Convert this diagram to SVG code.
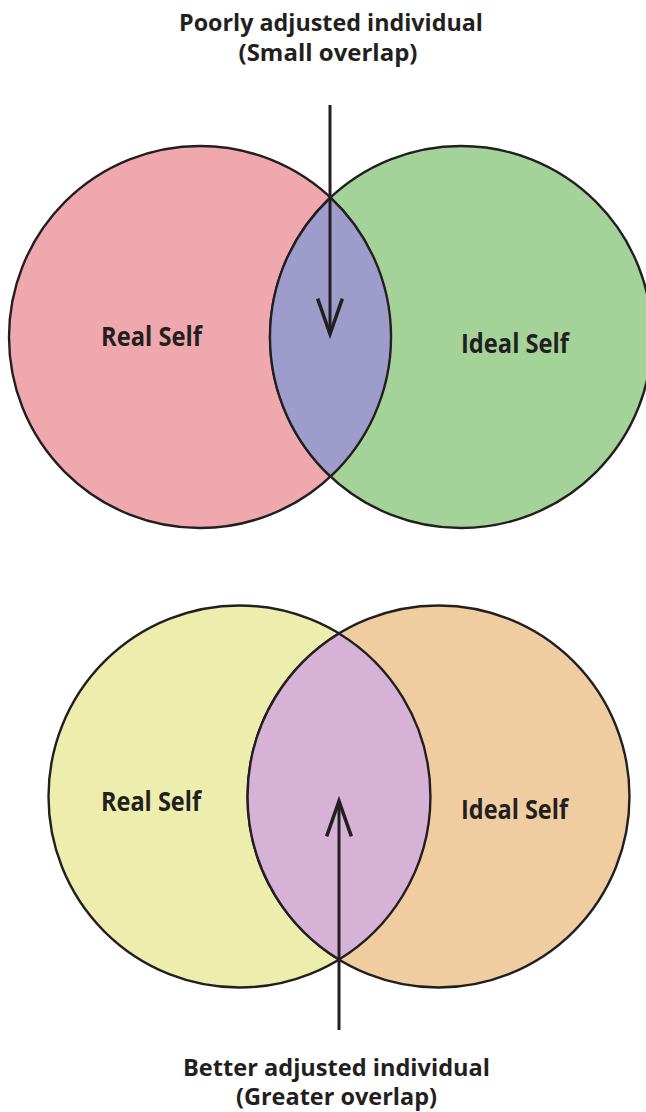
<svg xmlns="http://www.w3.org/2000/svg" width="646" height="1112" viewBox="0 0 646 1112">
<style>
.c{stroke:#231F20;stroke-width:2.4}
.t{font-family:"Open Sans","Liberation Sans",sans-serif;font-weight:700;font-size:26px;fill:#231F20}
.h{font-size:23px}
.a{stroke:#231F20;stroke-width:3;fill:none}
</style>
<defs>
<marker id="v" markerUnits="userSpaceOnUse" markerWidth="40" markerHeight="30" viewBox="-32 -12 34 24" refX="0" refY="0" orient="auto" overflow="visible">
<path d="M-30,-10.5 L0,0 L-30,10.5" fill="none" stroke="#231F20" stroke-width="3"/>
</marker>
</defs>
<rect width="646" height="1112" fill="#fff"/>
<text class="t h" x="331" y="31" text-anchor="middle" textLength="304" lengthAdjust="spacingAndGlyphs">Poorly adjusted individual</text>
<text class="t h" x="328" y="61" text-anchor="middle" textLength="179" lengthAdjust="spacingAndGlyphs">(Small overlap)</text>
<g id="top-real-self"><circle class="c" cx="200" cy="337" r="191" fill="#F0A8AF"/></g>
<g id="top-ideal-self"><circle class="c" cx="461" cy="337" r="191" fill="#A3D398"/></g>
<g id="top-overlap"><path class="c" d="M330.5,197.5 A191,191 0 0 0 330.5,476.5 A191,191 0 0 0 330.5,197.5 Z" fill="#9E9CCB"/></g>
<g id="top-labels">
<text class="t" x="101" y="346" textLength="101" lengthAdjust="spacingAndGlyphs">Real Self</text>
<text class="t" x="461" y="353" textLength="108" lengthAdjust="spacingAndGlyphs">Ideal Self</text>
</g>
<g id="bottom-real-self"><circle class="c" cx="239.5" cy="796.5" r="191" fill="#EDEEAD"/></g>
<g id="bottom-ideal-self"><circle class="c" cx="438.5" cy="796.5" r="191" fill="#EFCDA1"/></g>
<g id="bottom-overlap"><path class="c" d="M339,633.5 A191,191 0 0 0 339,959.5 A191,191 0 0 0 339,633.5 Z" fill="#D6B3D6"/></g>
<g id="bottom-labels">
<text class="t" x="101" y="811" textLength="100" lengthAdjust="spacingAndGlyphs">Real Self</text>
<text class="t" x="461" y="819" textLength="107" lengthAdjust="spacingAndGlyphs">Ideal Self</text>
</g>
<g id="connectors">
<line class="a" x1="330" y1="105" x2="330" y2="334" marker-end="url(#v)"/>
<line class="a" x1="339" y1="1030" x2="339" y2="801" marker-end="url(#v)"/>
</g>
<text class="t h" x="336.5" y="1076" text-anchor="middle" textLength="307" lengthAdjust="spacingAndGlyphs">Better adjusted individual</text>
<text class="t h" x="336.5" y="1105" text-anchor="middle" textLength="201" lengthAdjust="spacingAndGlyphs">(Greater overlap)</text>
</svg>
